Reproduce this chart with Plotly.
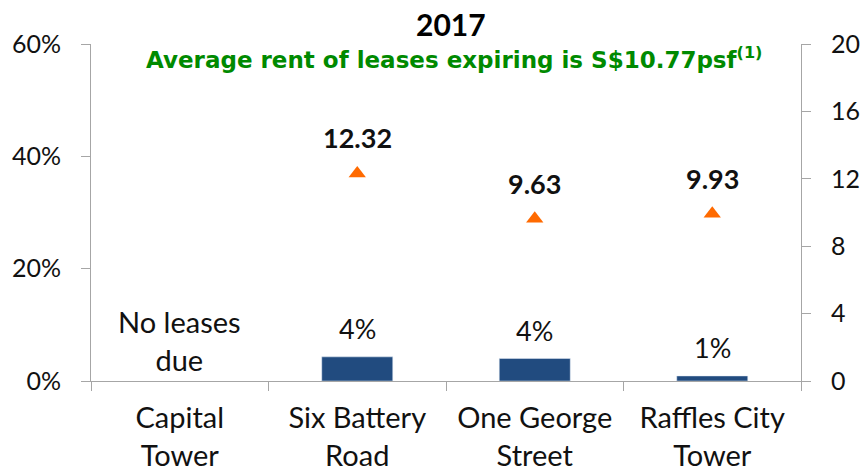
import plotly.graph_objects as go

categories = ["Capital<br>Tower", "Six Battery<br>Road", "One George<br>Street", "Raffles City<br>Tower"]
expiring_pct = [None, 4.3, 4.0, 0.9]
pct_labels = ["", "4%", "4%", "1%"]
avg_rent = [None, 12.32, 9.63, 9.93]
rent_labels = ["", "12.32", "9.63", "9.93"]
left_ticks = [0, 20, 40, 60]
left_tick_text = ["0%", "20%", "40%", "60%"]
right_ticks = [0, 4, 8, 12, 16, 20]

FONT = "Lato"
AX = "#A6A6A6"
fig = go.Figure()
fig.add_trace(go.Bar(
    x=categories, y=expiring_pct, marker_color="#214B7F", width=0.4,
    yaxis="y", showlegend=False, hoverinfo="skip"))
fig.add_trace(go.Scatter(
    x=categories, y=avg_rent, mode="markers", yaxis="y2",
    marker=dict(symbol="triangle-up", size=15, color="#FF6A00"),
    cliponaxis=False, showlegend=False))

for c, v, t in zip(categories, expiring_pct, pct_labels):
    if v is not None:
        fig.add_annotation(x=c, y=v, yref="y", text=t, showarrow=False, yanchor="bottom",
                           yshift=10, font=dict(size=27, color="#111", family=FONT))
for c, v, t in zip(categories, avg_rent, rent_labels):
    if v is not None:
        fig.add_annotation(x=c, y=v, yref="y2", text="<b>%s</b>" % t, showarrow=False,
                           yanchor="bottom", yshift=17, font=dict(size=27, color="#111", family=FONT))

fig.add_annotation(x=categories[0], y=0, yref="y", text="No leases<br>due", showarrow=False,
                   yanchor="middle", yshift=41, font=dict(size=29, color="#111", family=FONT))
fig.add_annotation(x=0.5, xref="paper", y=1, yref="paper", yshift=20, xshift=5, yanchor="middle",
                   text="<b>2017</b>", showarrow=False, font=dict(size=30, color="#000", family=FONT))
fig.add_annotation(x=0.5, xref="paper", y=1, yref="paper", yshift=-14, xshift=8, yanchor="middle",
                   text="<b>Average rent of leases expiring is S$10.77psf<sup>(1)</sup></b>",
                   showarrow=False, font=dict(size=23, color="#008A00", family="DejaVu Sans"))

common = dict(showline=True, linecolor=AX, linewidth=1, tickcolor=AX, ticklen=9,
              showgrid=False, zeroline=False, automargin=False)
fig.update_layout(
    width=864, height=476, margin=dict(l=91, r=63, t=44, b=95),
    plot_bgcolor="white", paper_bgcolor="white",
    font=dict(family=FONT, size=25, color="#111"),
    xaxis=dict(ticks="outside", tickson="boundaries", tickfont=dict(size=29),
               ticklabelstandoff=11, **common),
    xaxis2=dict(overlaying="x", range=[-0.5, 3.5], tickvals=[-0.5, 0.5, 1.5, 2.5, 3.5],
                ticks="inside", showticklabels=False, anchor="y", side="bottom", **common),
    yaxis=dict(range=[0, 60], tickvals=left_ticks, ticktext=left_tick_text, ticks="outside",
               tickfont=dict(size=25), ticklabelstandoff=15, **common),
    yaxis3=dict(range=[0, 60], tickvals=left_ticks, overlaying="y", ticks="inside",
                showticklabels=False, anchor="x", side="left", **common),
    yaxis2=dict(range=[0, 20], tickvals=right_ticks, overlaying="y", side="right", ticks="outside",
                tickfont=dict(size=25), ticklabelstandoff=15, anchor="x", **common),
    yaxis4=dict(range=[0, 20], tickvals=right_ticks, overlaying="y", side="right", ticks="inside",
                showticklabels=False, anchor="x", **common),
)
fig.write_html("out.html", config={"displayModeBar": False},
               post_script="document.body.style.margin='0';document.body.style.padding='0';")
